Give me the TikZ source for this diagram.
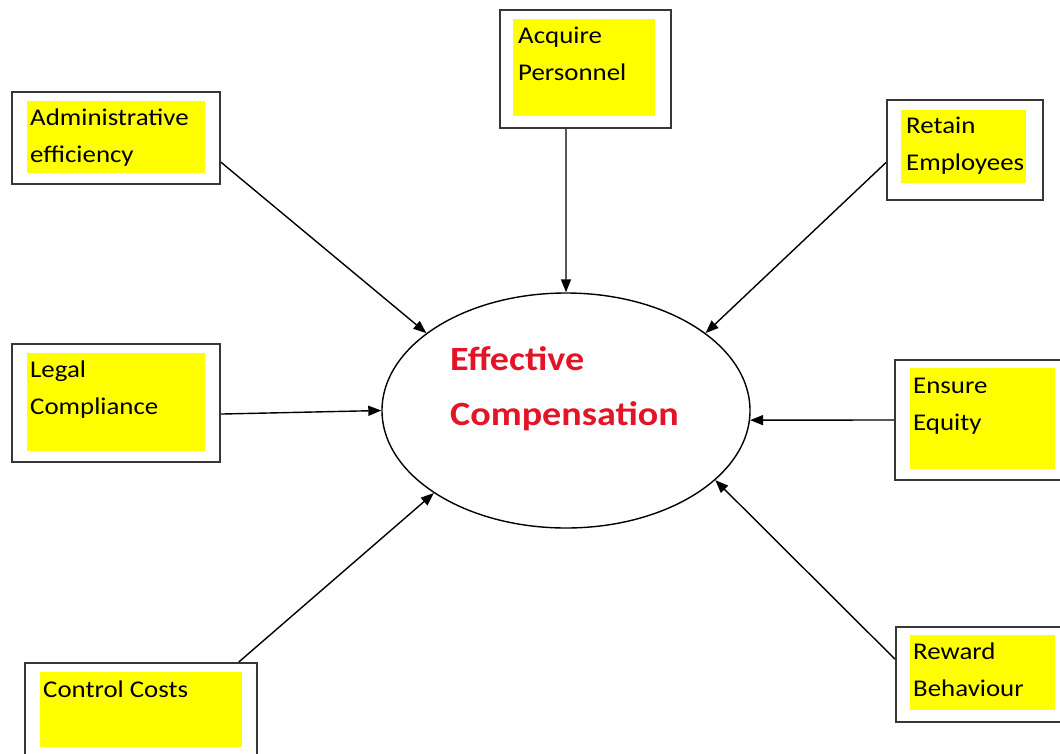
\documentclass[tikz,border=0pt]{standalone}
\usepackage{fontspec}
\setmainfont{Carlito}[FakeStretch=1.12]
\usepackage{tikz}
\usetikzlibrary{shapes.geometric,arrows.meta}

\definecolor{boxyellow}{RGB}{255,255,0}
\definecolor{effred}{RGB}{228,20,40}
\definecolor{edgegrey}{RGB}{55,55,55}

\begin{document}
\begin{tikzpicture}[x=1pt,y=-1pt,
        outer/.style={draw=edgegrey, line width=2pt, fill=white, inner sep=0pt},
        yellowbox/.style={fill=boxyellow, inner sep=0pt},
        lbl/.style={anchor=base west, align=left, inner sep=0pt, font=\fontsize{24}{37}\selectfont},
        arr/.style={-{Triangle[length=13pt,width=10pt]}, line width=1.4pt}]
        \useasboundingbox (0,0) rectangle (1060,753);
        \clip (0,0) rectangle (1060,753);

        % centre ellipse, text anchored at last baseline
        \node [draw, ellipse, line width=1.4pt, minimum width=368pt, minimum height=235pt] (eff) at (566,410.5) {};
        \node [anchor=base west, align=left, inner sep=0pt, text=effred, font=\fontsize{34}{55}\selectfont\bfseries] (efft) at (450,425) {Effective\\Compensation};

        \node [outer, minimum width=208pt, minimum height=92pt] (adm) at (116,138) {};
        \node [yellowbox, minimum width=178pt, minimum height=72pt] (admy) at (116,137) {};
        \node [lbl] (admt) at (30,162) {Administrative\\efficiency};

        \node [outer, minimum width=171pt, minimum height=118pt] (acq) at (585.5,69) {};
        \node [yellowbox, minimum width=142pt, minimum height=97pt] (acqy) at (584,67.5) {};
        \node [lbl] (acqt) at (518,80) {Acquire\\Personnel};

        \node [outer, minimum width=156pt, minimum height=100pt] (ret) at (965,150) {};
        \node [yellowbox, minimum width=125pt, minimum height=73pt] (rety) at (963.5,146.5) {};
        \node [lbl] (rett) at (906,170) {Retain\\Employees};

        \node [outer, minimum width=208pt, minimum height=118pt] (leg) at (116,403) {};
        \node [yellowbox, minimum width=178pt, minimum height=98pt] (legy) at (116,402) {};
        \node [lbl] (legt) at (30,414) {Legal\\Compliance};

        \node [outer, minimum width=173pt, minimum height=120pt] (ens) at (981.5,420) {};
        \node [yellowbox, minimum width=145pt, minimum height=101pt] (ensy) at (982.5,418.5) {};
        \node [lbl] (enst) at (913,430) {Ensure\\Equity};

        \node [outer, minimum width=232pt, minimum height=102pt] (ctl) at (141,714) {};
        \node [yellowbox, minimum width=202pt, minimum height=75pt] (ctly) at (141,709.5) {};
        \node [lbl] (ctlt) at (43,697) {Control Costs};

        \node [outer, minimum width=172pt, minimum height=95pt] (rew) at (982,674.5) {};
        \node [yellowbox, minimum width=145pt, minimum height=75pt] (rewy) at (982.5,672.5) {};
        \node [lbl] (rewt) at (913,696) {Reward\\Behaviour};

        \draw [arr] (adm.-13.5) -- (eff.151.5);
        \draw [arr] (acq.-108) -- (eff.90);
        \draw [arr] (ret.189) -- (eff.29);
        \draw [arr] (leg.-6.6) -- (eff.180);
        \draw [arr] (ens.west) -- (eff.-3);
        \draw [arr] (ctl.28) -- (eff.212.7);
        \draw [arr] (rew.170.2) -- (eff.335);
    \end{tikzpicture}
\end{document}
